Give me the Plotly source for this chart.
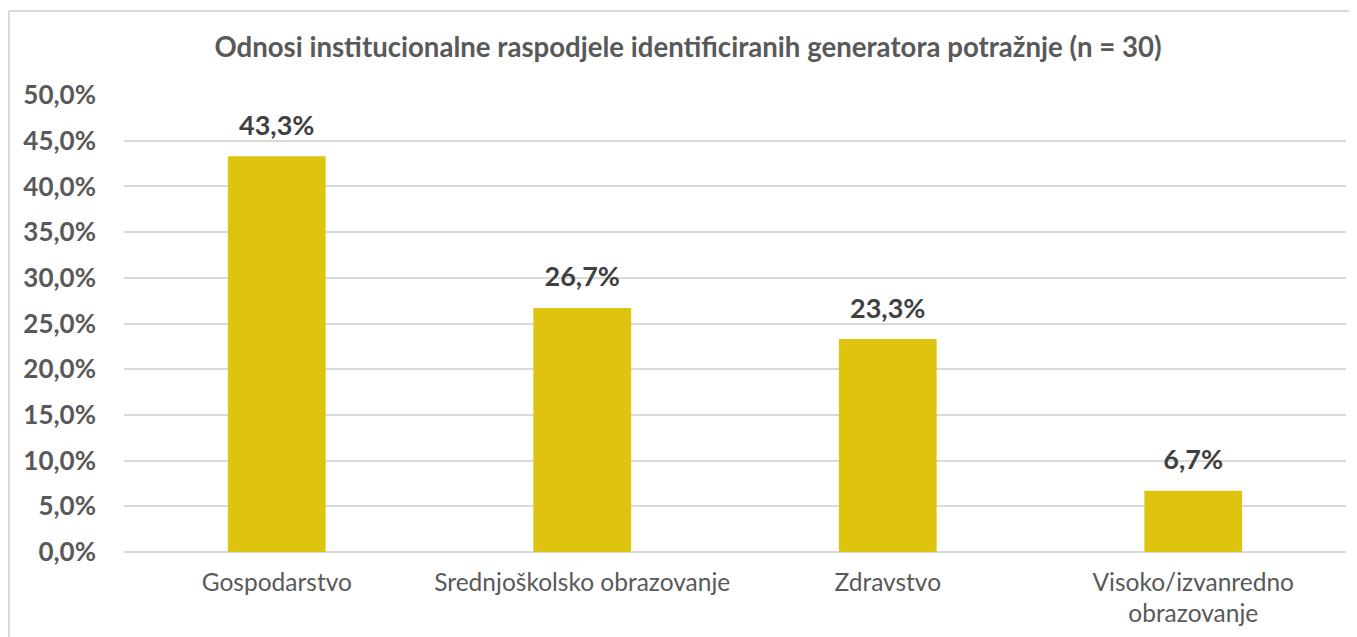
import plotly.graph_objects as go

categories = ["Gospodarstvo", "Srednjoškolsko obrazovanje", "Zdravstvo", "Visoko/izvanredno<br>obrazovanje"]
values = [0.433, 0.267, 0.233, 0.067]
tick_vals = [0, 0.05, 0.10, 0.15, 0.20, 0.25, 0.30, 0.35, 0.40, 0.45, 0.50]

# page body has an 8px margin, so the figure is offset by 8px
W, H = 1349, 629
L, R, T, B = 116, 11, 87, 85
pw, ph = W - L - R, H - T - B

fig = go.Figure(go.Bar(
    x=categories, y=values,
    marker=dict(color="#dfc40f", line=dict(width=0)),
    width=0.32,
    showlegend=False,
))

fig.add_trace(go.Scatter(
    x=categories, y=values, mode="markers+text",
    marker=dict(size=22, opacity=0),
    text=values, texttemplate="%{y:.1%}", textposition="top center",
    textfont=dict(family="Lato", size=27, color="#404040", weight="bold"),
    cliponaxis=False, showlegend=False, hoverinfo="skip",
))

fig.update_layout(
    width=W, height=H,
    margin=dict(l=L, r=R, t=T, b=B),
    paper_bgcolor="white", plot_bgcolor="white",
    separators=",.",
    showlegend=False,
    title=dict(text="Odnosi institucionalne raspodjele identificiranih generatora potražnje (n = 30)",
               x=(680 - L) / pw, xref="paper", xanchor="center",
               y=1 - 39 / H, yref="container", yanchor="middle",
               font=dict(family="Lato", size=27.6, color="#595959", weight="bold")),
    xaxis=dict(showgrid=False, showline=False, ticks="",
               tickfont=dict(family="Lato", size=24.5, color="#595959", weight="normal"),
               ticklabelstandoff=13),
    yaxis=dict(range=[0, 0.5], tickvals=tick_vals, tickformat=".1%",
               showgrid=True, gridcolor="#d9d9d9", gridwidth=1.5,
               zeroline=True, zerolinecolor="#d9d9d9", zerolinewidth=1.5,
               tickfont=dict(family="Lato", size=26, color="#595959", weight="bold"),
               ticklabelstandoff=27, showline=False, ticks=""),
)

fig.add_shape(type="line", xref="paper", yref="paper",
              x0=(1 - L) / pw, x1=(W - L) / pw, y0=1 + (T - 3) / ph, y1=1 + (T - 3) / ph,
              line=dict(color="#d9d9d9", width=2))
fig.add_shape(type="line", xref="paper", yref="paper",
              x0=(1 - L) / pw, x1=(1 - L) / pw, y0=1 + (T - 3) / ph, y1=-B / ph,
              line=dict(color="#d9d9d9", width=2))

fig.write_html("out.html")
